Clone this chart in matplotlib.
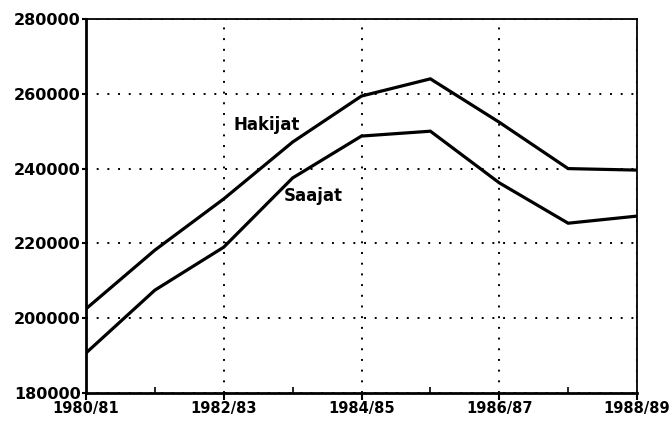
import matplotlib.pyplot as plt
from matplotlib.ticker import MultipleLocator

plt.rcParams['font.family'] = ['DejaVu Sans']

# school years, one point per year
years = list(range(9))
year_labels = ['1980/81', '1982/83', '1984/85', '1986/87', '1988/89']
hakijat = [202500, 218200, 231900, 247100, 259400, 264000, 252400, 240000, 239600]
saajat = [190700, 207500, 219000, 237500, 248700, 250000, 236200, 225400, 227300]

fig = plt.figure(figsize=(6.72, 4.21), dpi=100)
ax = fig.add_axes([86 / 672, 1 - 393 / 421, (637 - 86) / 672, (393 - 19) / 421])

ax.plot(years, hakijat, color='black', lw=2.3, solid_joinstyle='miter')
ax.plot(years, saajat, color='black', lw=2.3, solid_joinstyle='miter')

ax.set_xlim(0, 8)
ax.set_ylim(180000, 280000)
ax.set_xticks([0, 2, 4, 6, 8])
ax.set_xticklabels(year_labels)
ax.xaxis.set_minor_locator(MultipleLocator(1))
ax.set_yticks(range(180000, 280001, 20000))

ax.grid(True, which='major', color='black', linestyle=(0, (1, 4.5)), lw=1.4)
ax.tick_params(axis='x', which='major', direction='out', length=5, width=1.5, pad=1)
ax.tick_params(axis='x', which='minor', direction='in', length=4, width=1.2)
ax.tick_params(axis='y', direction='out', length=3, width=1.5, pad=1)
for lab in ax.get_xticklabels():
    lab.set_fontweight('bold')
    lab.set_fontsize(10.5)
for lab in ax.get_yticklabels():
    lab.set_fontweight('bold')
    lab.set_fontsize(11.5)

for side in ['left', 'bottom']:
    ax.spines[side].set_linewidth(2)
for side in ['top', 'right']:
    ax.spines[side].set_linewidth(1.3)

ax.text(2.62, 251700, 'Hakijat', fontsize=12, fontweight='bold', ha='center', va='center')
ax.text(3.3, 232700, 'Saajat', fontsize=12, fontweight='bold', ha='center', va='center')

fig.savefig('out.png', dpi=100)
